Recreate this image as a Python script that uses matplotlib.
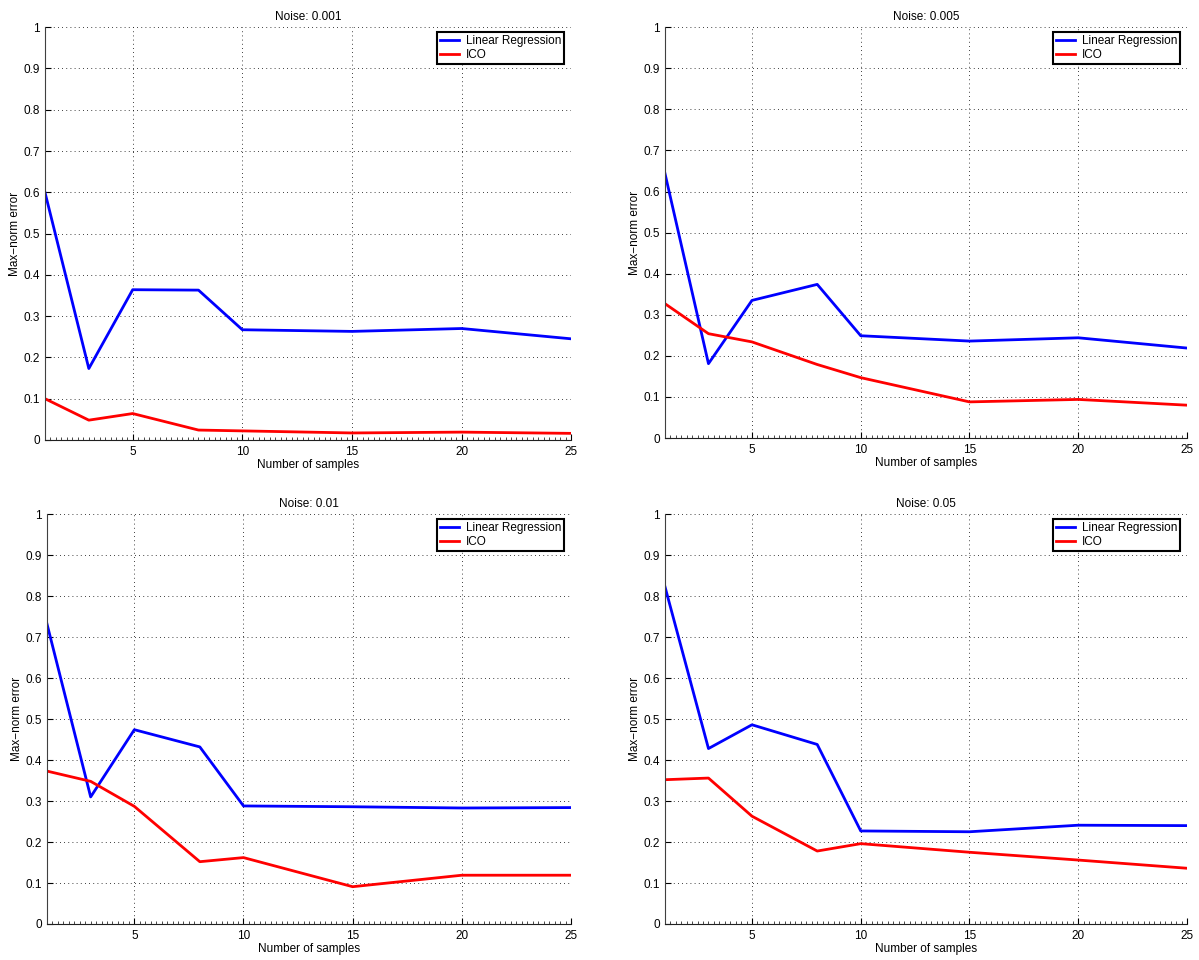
import matplotlib
matplotlib.use("Agg")
import matplotlib.pyplot as plt
from matplotlib.ticker import MultipleLocator

# ── data ─────────────────────────────────────────────────────────────────────
samples = [1, 3, 5, 8, 10, 15, 20, 25]
noise_levels = ["0.001", "0.005", "0.01", "0.05"]

lr_0001 = [0.600, 0.173, 0.364, 0.363, 0.267, 0.263, 0.270, 0.245]
ico_0001 = [0.100, 0.048, 0.064, 0.024, 0.022, 0.017, 0.019, 0.016]

lr_0005 = [0.644, 0.181, 0.335, 0.374, 0.249, 0.236, 0.244, 0.219]
ico_0005 = [0.327, 0.254, 0.234, 0.179, 0.147, 0.088, 0.094, 0.080]

lr_001 = [0.732, 0.310, 0.474, 0.432, 0.288, 0.286, 0.283, 0.284]
ico_001 = [0.373, 0.348, 0.287, 0.152, 0.162, 0.091, 0.119, 0.119]

lr_005 = [0.823, 0.428, 0.486, 0.438, 0.227, 0.225, 0.241, 0.240]
ico_005 = [0.352, 0.356, 0.263, 0.178, 0.196, 0.175, 0.156, 0.136]

lr_all = [lr_0001, lr_0005, lr_001, lr_005]
ico_all = [ico_0001, ico_0005, ico_001, ico_005]

x_ticks = [5, 10, 15, 20, 25]
y_ticks = [0, 0.1, 0.2, 0.3, 0.4, 0.5, 0.6, 0.7, 0.8, 0.9, 1]
y_labels = ["0", "0.1", "0.2", "0.3", "0.4", "0.5", "0.6", "0.7", "0.8", "0.9", "1"]

# ── style ────────────────────────────────────────────────────────────────────
plt.rcParams.update({
    "font.family": ["Liberation Sans", "DejaVu Sans"],
    "font.size": 8,
    "xtick.direction": "in",
    "ytick.direction": "in",
})

fig = plt.figure(figsize=(11.99, 9.6), dpi=100)

# axes rectangles (left, bottom, width, height)
rects = [
    [0.0375, 0.5417, 0.439, 0.430],
    [0.5546, 0.5437, 0.4354, 0.428],
    [0.0392, 0.0375, 0.437, 0.427],
    [0.5546, 0.0375, 0.4354, 0.427],
]

for rect, noise, lr, ico in zip(rects, noise_levels, lr_all, ico_all):
    ax = fig.add_axes(rect)
    ax.plot(samples, lr, color="#0000ff", linewidth=2, label="Linear Regression")
    ax.plot(samples, ico, color="#ff0000", linewidth=2, label="ICO")
    ax.set_xlim(1, 25)
    ax.set_ylim(0, 1)
    ax.set_xticks(x_ticks)
    ax.set_yticks(y_ticks)
    ax.set_yticklabels(y_labels)
    ax.xaxis.set_minor_locator(MultipleLocator(0.25))
    ax.tick_params(axis="both", which="major", length=4, width=0.8, labelsize=8.5)
    ax.tick_params(axis="x", which="major", pad=4)
    ax.tick_params(axis="x", which="minor", length=2, width=0.5)
    ax.grid(True, which="major", linestyle=(0, (1, 4)), color="black", linewidth=0.6)
    ax.spines["top"].set_visible(False)
    ax.spines["right"].set_visible(False)
    ax.spines["left"].set_color("#404040")
    ax.spines["bottom"].set_color("#202020")
    ax.set_title(f"Noise: {noise}", fontsize=8.5, pad=5)
    ax.set_xlabel("Number of samples", fontsize=8.5, labelpad=1)
    ax.set_ylabel("Max\u2212norm error", fontsize=8.5, labelpad=2)
    leg = ax.legend(loc="upper right", fontsize=8.5, fancybox=False, framealpha=1,
                    edgecolor="black", handlelength=1.6, handletextpad=0.6,
                    borderpad=0.25, labelspacing=0.2, borderaxespad=0,
                    bbox_to_anchor=(0.987, 0.988))
    leg.get_frame().set_linewidth(1.5)

fig.savefig("out.png", dpi=100)
